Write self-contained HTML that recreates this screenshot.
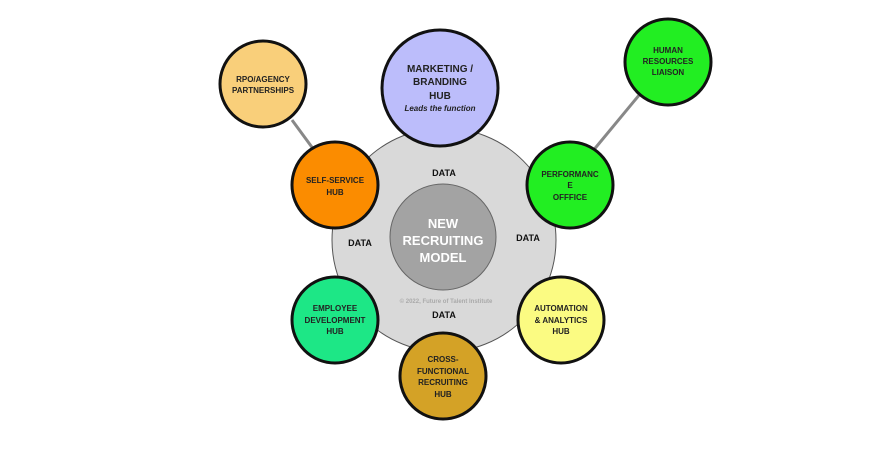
<!DOCTYPE html>
<html><head><meta charset="utf-8"><style>
html,body{margin:0;padding:0;background:#fff;}
svg{display:block;}
text{font-family:"Liberation Sans",sans-serif;font-weight:bold;text-anchor:middle;}
</style></head><body>
<svg width="870" height="450" viewBox="0 0 870 450" xmlns="http://www.w3.org/2000/svg">
<line x1="292" y1="120" x2="314" y2="150" stroke="#888" stroke-width="3"/>
<line x1="640" y1="94" x2="592" y2="152" stroke="#888" stroke-width="3"/>
<circle cx="444" cy="240" r="112" fill="#d9d9d9" stroke="#555" stroke-width="1"/>
<circle cx="443" cy="237" r="53" fill="#a3a3a3" stroke="#666" stroke-width="1"/>
<text x="443" y="228" font-size="13" fill="#fff">NEW</text>
<text x="443" y="245" font-size="13" fill="#fff">RECRUITING</text>
<text x="443" y="262" font-size="13" fill="#fff">MODEL</text>
<text x="444" y="176" font-size="9" fill="#111">DATA</text>
<text x="360" y="246" font-size="9" fill="#111">DATA</text>
<text x="528" y="241" font-size="9" fill="#111">DATA</text>
<text x="444" y="318" font-size="9" fill="#111">DATA</text>
<text x="446" y="303" font-size="6" fill="#aaa" font-weight="normal">© 2022, Future of Talent Institute</text>
<g stroke="#111" stroke-width="3">
<circle cx="263" cy="84" r="43" fill="#f9cf7a"/>
<circle cx="668" cy="62" r="43" fill="#22ee22"/>
<circle cx="440" cy="88" r="58" fill="#bcbdfb"/>
<circle cx="335" cy="185" r="43" fill="#fb8c00"/>
<circle cx="570" cy="185" r="43" fill="#22ee22"/>
<circle cx="335" cy="320" r="43" fill="#1de786"/>
<circle cx="561" cy="320" r="43" fill="#fbfb82"/>
<circle cx="443" cy="376" r="43" fill="#d4a226"/>
</g>
<g font-size="8" fill="#222">
<text x="263" y="82">RPO/AGENCY</text><text x="263" y="93">PARTNERSHIPS</text>
<text x="668" y="53">HUMAN</text><text x="668" y="64">RESOURCES</text><text x="668" y="75">LIAISON</text>
<text x="335" y="183">SELF-SERVICE</text><text x="335" y="195">HUB</text>
<text x="570" y="177">PERFORMANC</text><text x="570" y="188">E</text><text x="570" y="200">OFFFICE</text>
<text x="335" y="311">EMPLOYEE</text><text x="335" y="323">DEVELOPMENT</text><text x="335" y="334">HUB</text>
<text x="561" y="311">AUTOMATION</text><text x="561" y="323">&amp; ANALYTICS</text><text x="561" y="334">HUB</text>
<text x="443" y="362">CROSS-</text><text x="443" y="374">FUNCTIONAL</text><text x="443" y="385">RECRUITING</text><text x="443" y="397">HUB</text>
</g>
<g font-size="10" fill="#222">
<text x="440" y="72">MARKETING /</text><text x="440" y="85">BRANDING</text><text x="440" y="99">HUB</text>
</g>
<text x="440" y="111" font-size="8" font-style="italic" fill="#222">Leads the function</text>
</svg>
</body></html>
